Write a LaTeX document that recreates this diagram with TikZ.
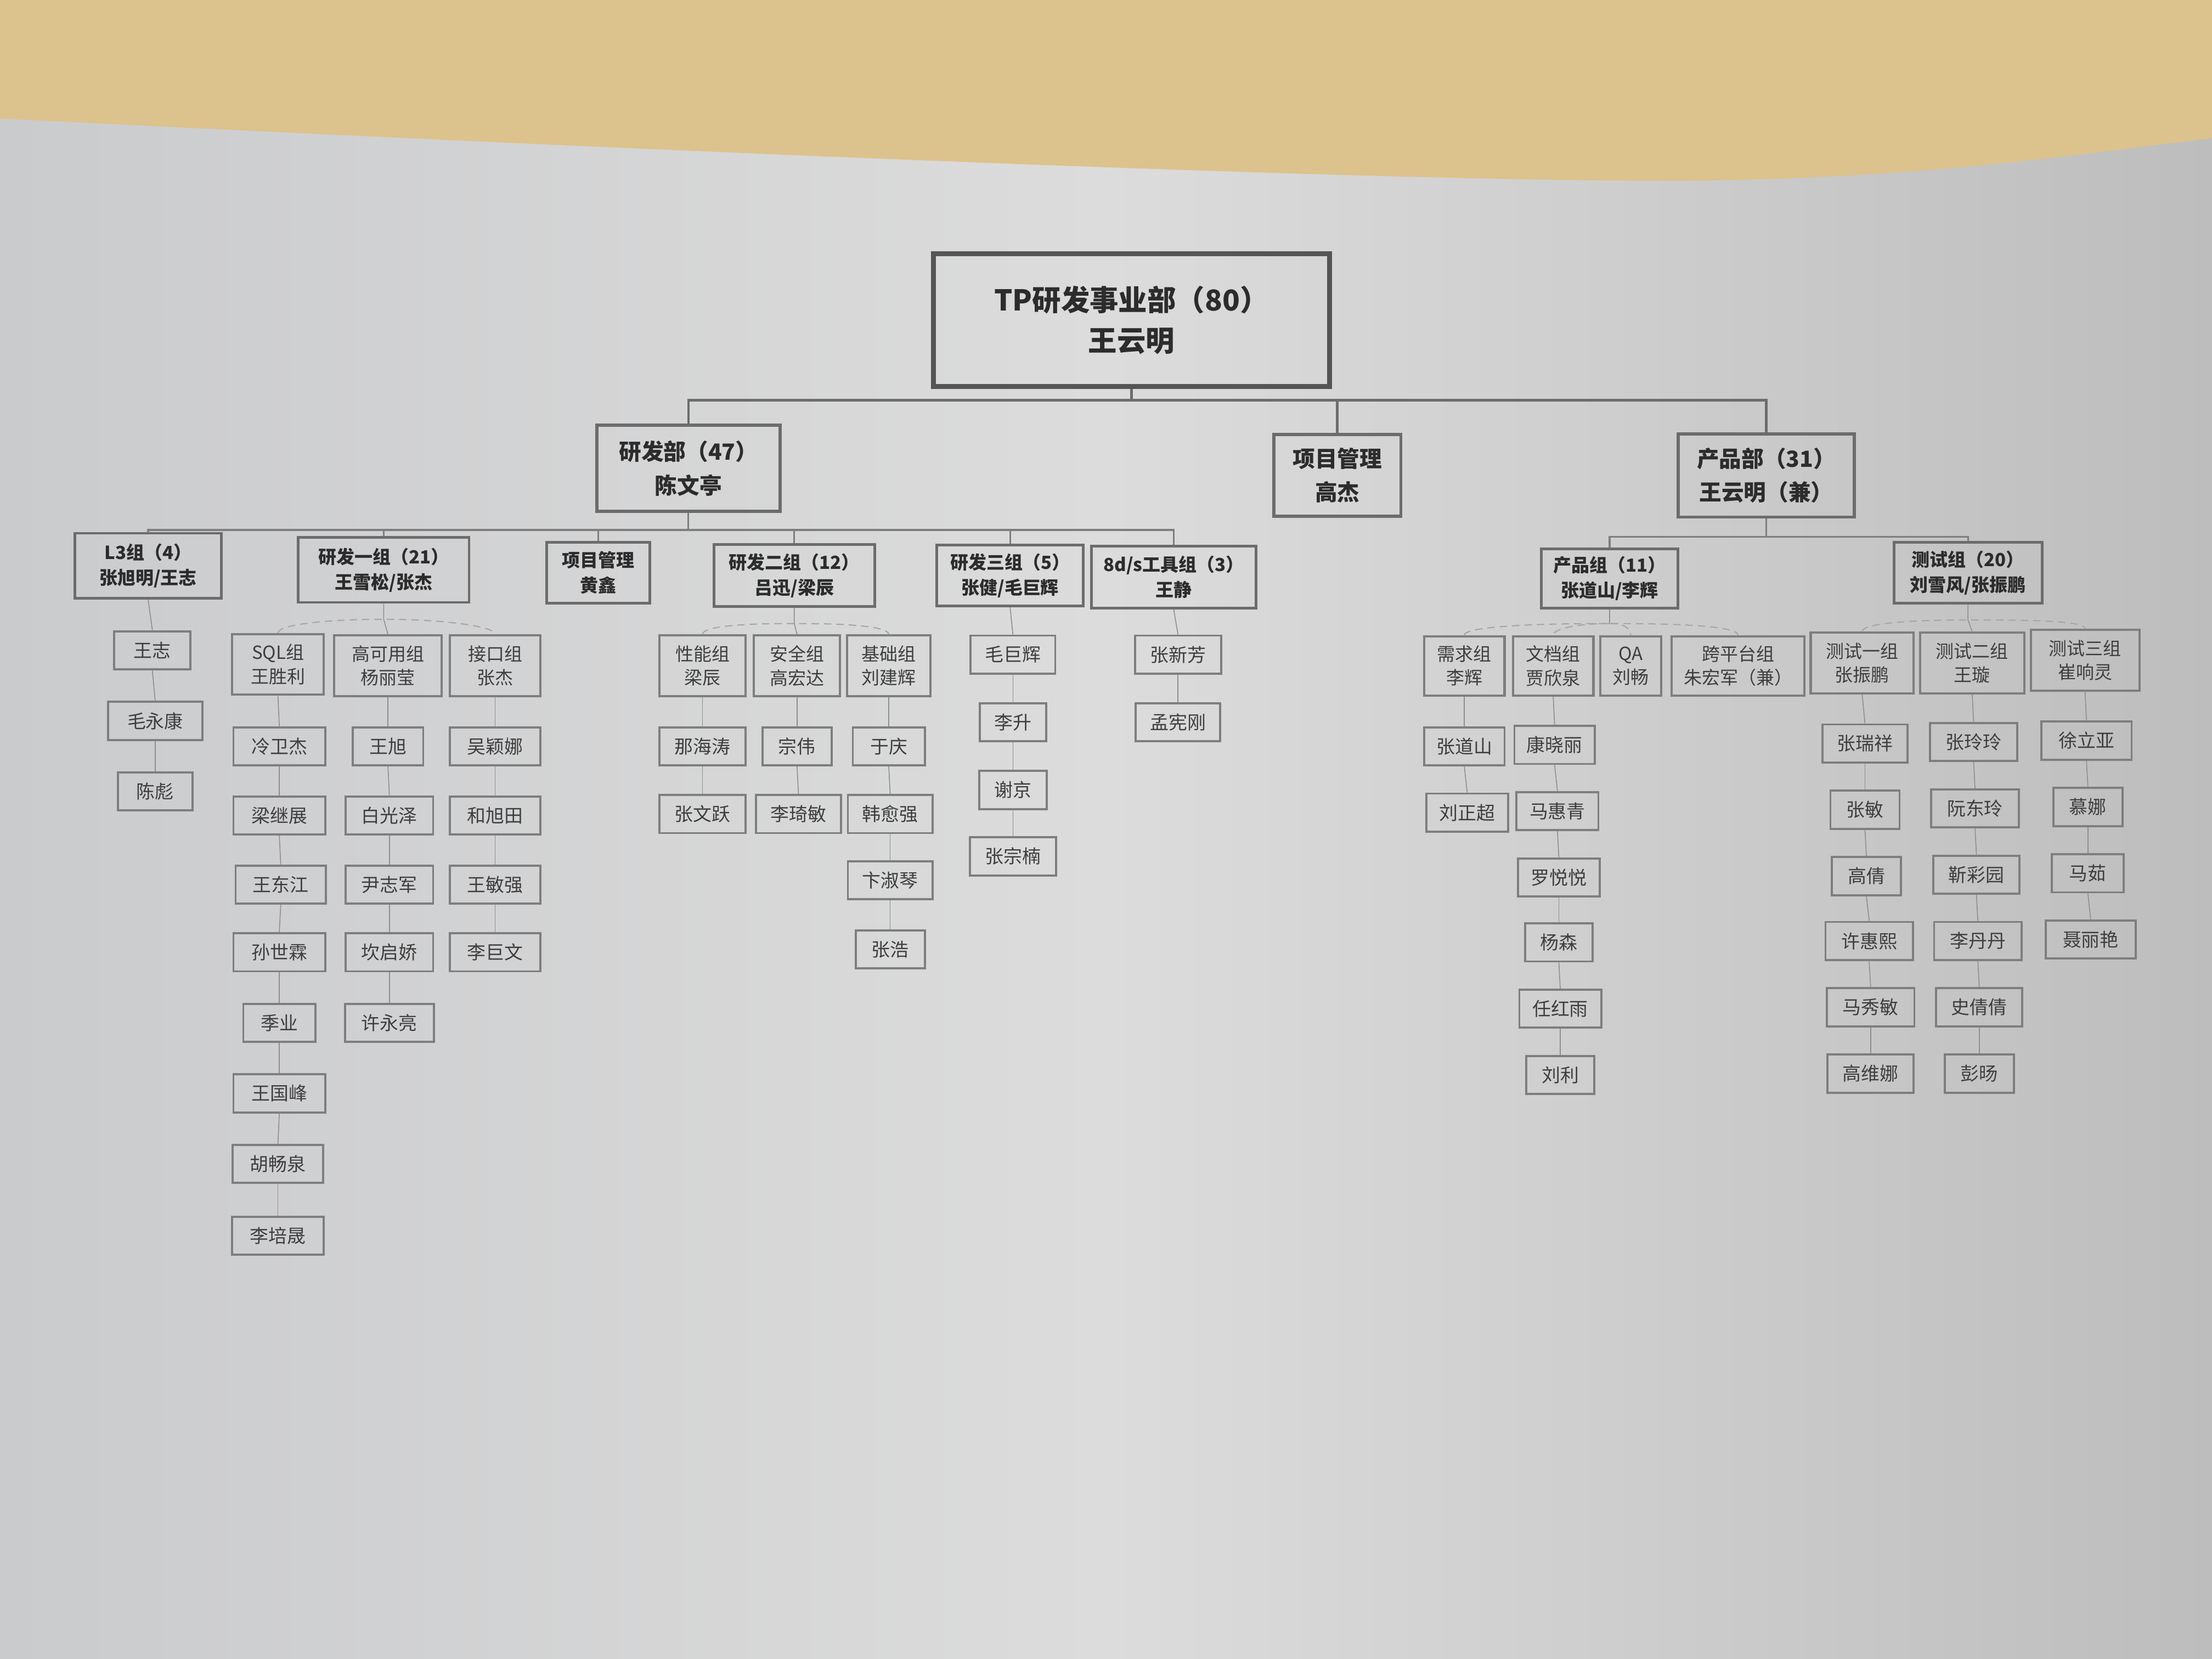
\documentclass[tikz,border=0pt]{standalone}
\usepackage{fontspec}
\setmainfont{Noto Sans CJK SC}
\definecolor{paperL}{HTML}{CACBCD}
\definecolor{paperM}{HTML}{DCDCDC}
\definecolor{paperR}{HTML}{BDBDBD}
\definecolor{desk}{HTML}{DCC28C}
\definecolor{boxdark}{HTML}{555555}
\definecolor{boxmid}{HTML}{6C6C6C}
\definecolor{boxlight}{HTML}{7E7E7E}
\definecolor{txt}{HTML}{2C2C2C}
\definecolor{txtl}{HTML}{3E3E3E}
\definecolor{lnk}{HTML}{8E8E8E}
\begin{document}
\begin{tikzpicture}[x=0.02cm,y=-0.02cm,
  every node/.style={inner sep=0pt,align=center},
  sz/.style 2 args={minimum width=#1*0.02cm,minimum height=#2*0.02cm},
  rootbox/.style={draw=boxdark,line width=2pt,text=txt,font=\fontsize{11.6}{16.4}\selectfont\bfseries},
  deptbox/.style={draw=boxmid,line width=1.3pt,text=txt,font=\fontsize{9}{13.6}\selectfont\bfseries},
  grpbox/.style={draw=boxmid,line width=1.1pt,text=txt,font=\fontsize{7.3}{10.2}\selectfont\bfseries},
  subbox/.style={draw=boxlight,line width=0.9pt,text=txtl,font=\fontsize{7.3}{9.6}\selectfont},
  mem/.style={draw=boxlight,line width=0.85pt,text=txtl,font=\fontsize{7.5}{9}\selectfont},
  bartop/.style={draw=boxmid,line width=1pt},
  barmid/.style={draw=boxlight,line width=0.7pt},
  link/.style={draw=lnk,line width=0.35pt},
  arcline/.style={draw=lnk!80,line width=0.45pt,densely dashed}]
\useasboundingbox (0,0) rectangle (1568,1176);
% background: paper and desk
\shade[left color=paperL,right color=paperR,middle color=paperM] (0,0) rectangle (1568,1176);
\fill[desk] (0,0) -- (1568,0) -- (1568,98) .. controls (1480,108) and (1350,130) .. (1150,128)
  .. controls (900,126) and (400,104) .. (0,84) -- cycle;

% level 1 and 2
\node[rootbox,sz={281}{94}] (root) at (802,227) {TP研发事业部（80）\\王云明};
\node[deptbox,sz={130}{61}] (rd) at (488,332) {研发部（47）\\陈文亭};
\node[deptbox,sz={90}{58}] (pm) at (948,337) {项目管理\\高杰};
\node[deptbox,sz={125}{59}] (pd) at (1252,337) {产品部（31）\\王云明（兼）};

% level 3
\node[grpbox,sz={104}{46}] (l3) at (105,401) {L3组（4）\\张旭明/王志};
\node[grpbox,sz={121}{46}] (g1) at (272,404) {研发一组（21）\\王雪松/张杰};
\node[grpbox,sz={73}{43}] (pmh) at (424,406) {项目管理\\黄鑫};
\node[grpbox,sz={114}{44}] (g2) at (563,408) {研发二组（12）\\吕迅/梁辰};
\node[grpbox,sz={104}{43}] (g3) at (716,408) {研发三组（5）\\张健/毛巨辉};
\node[grpbox,sz={117}{44}] (tool) at (832,409) {8d/s工具组（3）\\王静};
\node[grpbox,sz={97}{42}] (pg) at (1141,410) {产品组（11）\\张道山/李辉};
\node[grpbox,sz={105}{43}] (tg) at (1395,406) {测试组（20）\\刘雪风/张振鹏};

% level 4 sub-groups
\node[subbox,sz={65}{43}] (sql) at (197,471) {SQL组\\王胜利};
\node[subbox,sz={76}{43}] (ha) at (275,472) {高可用组\\杨丽莹};
\node[subbox,sz={64}{43}] (api) at (351,472) {接口组\\张杰};
\node[subbox,sz={61}{43}] (perf) at (498,472) {性能组\\梁辰};
\node[subbox,sz={61}{43}] (sec) at (565,472) {安全组\\高宏达};
\node[subbox,sz={59}{43}] (base) at (630,472) {基础组\\刘建辉};
\node[subbox,sz={57}{42}] (req) at (1038,472) {需求组\\李辉};
\node[subbox,sz={57}{42}] (doc) at (1101,472) {文档组\\贾欣泉};
\node[subbox,sz={43}{42}] (qa) at (1156,472) {QA\\刘畅};
\node[subbox,sz={94}{42}] (xp) at (1232,472) {跨平台组\\朱宏军（兼）};
\node[subbox,sz={73}{43}] (t1) at (1320,470) {测试一组\\张振鹏};
\node[subbox,sz={74}{43}] (t2) at (1398,470) {测试二组\\王璇};
\node[subbox,sz={77}{43}] (t3) at (1478,468) {测试三组\\崔响灵};

% members
\foreach \n/\x/\y/\w/\t in {
  a1/108/461/54/王志, a2/110/511/67/毛永康, a3/110/561/53/陈彪,
  s1/198/529/65/冷卫杰, s2/198/578/65/梁继展, s3/199/627/64/王东江, s4/198/675/65/孙世霖,
  s5/198/725/51/季业, s6/198/775/65/王国峰, s7/197/825/64/胡畅泉, s8/197/876/65/李培晟,
  h1/275/529/50/王旭, h2/276/578/62/白光泽, h3/276/627/62/尹志军, h4/276/675/62/坎启娇, h5/276/725/63/许永亮,
  i1/351/529/64/吴颖娜, i2/351/578/64/和旭田, i3/351/627/64/王敏强, i4/351/675/64/李巨文,
  p1/498/529/61/那海涛, p2/498/577/61/张文跃,
  q1/565/529/49/宗伟, q2/566/577/60/李琦敏,
  b1/630/529/51/于庆, b2/631/577/60/韩愈强, b3/631/624/60/卞淑琴, b4/631/673/49/张浩,
  r1/718/464/60/毛巨辉, r2/718/512/47/李升, r3/718/560/48/谢京, r4/718/607/61/张宗楠,
  k1/835/464/61/张新芳, k2/835/512/60/孟宪刚,
  d1/1038/529/57/张道山, d2/1040/576/58/刘正超,
  e1/1102/528/57/康晓丽, e2/1104/575/58/马惠青, e3/1105/622/58/罗悦悦, e4/1105/668/48/杨森,
  e5/1106/715/58/任红雨, e6/1106/762/48/刘利,
  u1/1322/527/60/张瑞祥, u2/1322/574/49/张敏, u3/1323/621/49/高倩, u4/1325/667/62/许惠熙,
  u5/1326/714/62/马秀敏, u6/1326/761/61/高维娜,
  v1/1399/526/62/张玲玲, v2/1400/573/62/阮东玲, v3/1401/620/61/靳彩园, v4/1402/667/62/李丹丹,
  v5/1403/714/61/史倩倩, v6/1403/761/49/彭旸,
  w1/1479/525/64/徐立亚, w2/1480/572/49/慕娜, w3/1480/619/51/马茹, w4/1482/666/64/聂丽艳}
  \node[mem,sz={\w}{27}] (\n) at (\x,\y) {\t};

% bars from root, 研发部, 产品部
\foreach \c in {rd,pm,pd} \draw[bartop] (root.south) -- ++(0,8) -| (\c.north);
\foreach \c in {l3,g1,pmh,g2,g3,tool} \draw[barmid] (rd.south) -- ++(0,12) -| (\c.north);
\foreach \c in {pg,tg} \draw[barmid] (pd.south) -- ++(0,13) -| (\c.north);

% curved connectors to sub-groups
\coordinate (k1p) at ([yshift=-11*0.02cm]g1.south);
\coordinate (k2p) at ([yshift=-11*0.02cm]g2.south);
\coordinate (k3p) at ([yshift=-10*0.02cm]pg.south);
\coordinate (k4p) at ([yshift=-11*0.02cm]tg.south);
\draw[link] (g1.south) -- (k1p) -- (ha.north);
\draw[arcline] (sql.north) .. controls +(0,-6) and +(-40,0) .. (k1p) .. controls +(40,0) and +(0,-6) .. (api.north);
\draw[link] (g2.south) -- (k2p) -- (sec.north);
\draw[arcline] (perf.north) .. controls +(0,-6) and +(-35,0) .. (k2p) .. controls +(35,0) and +(0,-6) .. (base.north);
\draw[link] (pg.south) -- (k3p);
\draw[arcline] (req.north) .. controls +(0,-6) and +(-55,0) .. (k3p) .. controls +(55,0) and +(0,-6) .. (xp.north);
\draw[arcline] (k3p) .. controls +(-20,0) and +(0,-5) .. (doc.north);
\draw[arcline] (k3p) .. controls +(10,0) and +(0,-5) .. (qa.north);
\draw[link] (tg.south) -- (k4p) -- (t2.north);
\draw[arcline] (t1.north) .. controls +(0,-6) and +(-40,0) .. (k4p) .. controls +(40,0) and +(0,-6) .. (t3.north);

% member chains
\foreach \a/\b in {l3/a1,a1/a2,a2/a3,
  sql/s1,s1/s2,s2/s3,s3/s4,s4/s5,s5/s6,s6/s7,s7/s8,
  ha/h1,h1/h2,h2/h3,h3/h4,h4/h5,
  api/i1,i1/i2,i2/i3,i3/i4,
  perf/p1,p1/p2, sec/q1,q1/q2,
  base/b1,b1/b2,b2/b3,b3/b4,
  g3/r1,r1/r2,r2/r3,r3/r4,
  tool/k1,k1/k2,
  req/d1,d1/d2,
  doc/e1,e1/e2,e2/e3,e3/e4,e4/e5,e5/e6,
  t1/u1,u1/u2,u2/u3,u3/u4,u4/u5,u5/u6,
  t2/v1,v1/v2,v2/v3,v3/v4,v4/v5,v5/v6,
  t3/w1,w1/w2,w2/w3,w3/w4}
  \draw[link] (\a.south) -- (\b.north);
\end{tikzpicture}
\end{document}
